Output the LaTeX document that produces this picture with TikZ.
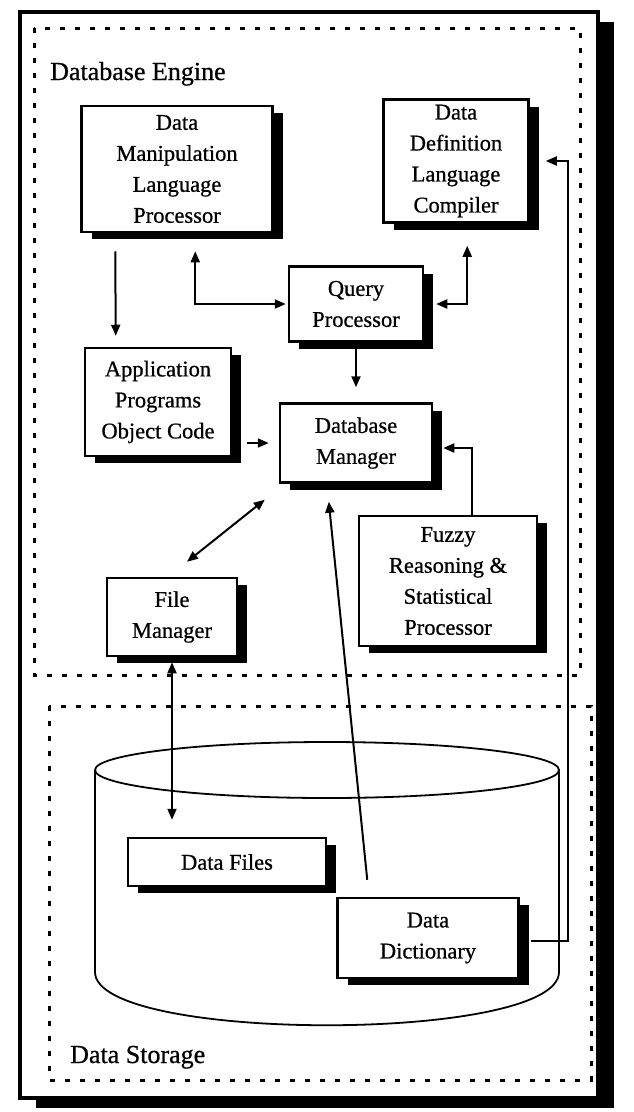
\documentclass[tikz,border=0pt]{standalone}
\usepackage{fontspec}
\setmainfont{Liberation Serif}[FakeBold=0.7]
\usetikzlibrary{arrows.meta,shadows}

\begin{document}
\begin{tikzpicture}[x=1pt,y=-1pt,
  >={Triangle[length=11pt,width=9pt]},
  blk/.style={draw, line width=2.5pt, fill=white, align=center, inner sep=0pt,
    font=\fontsize{22.5}{31}\selectfont,
    drop shadow={shadow xshift=10pt, shadow yshift=-7pt, fill=black, opacity=1}},
  link/.style={line width=2pt},
  zone/.style={line width=3pt, dash pattern=on 5pt off 10pt},
  lbl/.style={anchor=base west, inner sep=0pt, font=\fontsize{26}{31}\selectfont}]
\useasboundingbox (0,0) rectangle (633,1112);

\fill (36,22) rectangle (614,1108);
\draw[line width=4pt, fill=white] (20,12) rectangle (598,1098);
\draw[zone] (34,28) rectangle (580,675);
\draw[zone] (49,706) rectangle (591,1080);
\node (engine) at (50,80) [lbl] {Database Engine};
\node (storage) at (70,1063) [lbl] {Data Storage};

% disk
\draw[line width=1.8pt] (95,770) -- (95,972) .. controls (95,1043) and (559,1043) .. (559,972) -- (559,770);
\draw[line width=1.8pt] (327,770) ellipse [x radius=232, y radius=28];

\node (dml) at (177,169) [blk, minimum width=191pt, minimum height=126pt] {Data\\Manipulation\\Language\\Processor};
\node (ddl) at (456,161) [blk, minimum width=145pt, minimum height=123pt] {Data\\Definition\\Language\\Compiler};
\node (query) at (356,304) [blk, minimum width=134pt, minimum height=75pt] {Query\\Processor};
\node (app) at (158,402) [blk, minimum width=146pt, minimum height=108pt] {Application\\Programs\\Object Code};
\node (dbm) at (356,443) [blk, minimum width=152pt, minimum height=79pt] {Database\\Manager};
\node (fuzzy) at (448,581) [blk, minimum width=178pt, minimum height=130pt] {Fuzzy\\Reasoning \&\\Statistical\\Processor};
\node (fm) at (172,617) [blk, minimum width=130pt, minimum height=78pt] {File\\Manager};
\node (files) at (227,862) [blk, minimum width=198pt, minimum height=48pt] {Data Files};
\node (dd) at (428,938) [blk, minimum width=181pt, minimum height=80pt] {Data\\Dictionary};
\coordinate (rail) at (568,0);

\draw[link,->] ([xshift=35pt,yshift=-18pt]dml.south west) -- ([xshift=32pt,yshift=11pt]app.north west);
\draw[link,<->] ([xshift=115pt,yshift=-18pt]dml.south west) |- ([xshift=-2pt]query.west);
\draw[link,<->] ([xshift=85pt,yshift=-22pt]ddl.south west) |- ([xshift=12pt]query.east);
\draw[link,->] ([yshift=-6pt]query.south) -- ([yshift=15pt]dbm.north);
\draw[link,->,shorten <=15pt,shorten >=10pt] (app.east |- dbm.west) -- (dbm.west);
\draw[link,<->] ([xshift=15pt,yshift=15pt]fm.north) -- ([xshift=-14pt,yshift=-16pt]dbm.south west);
\draw[link,->] ([xshift=24pt]fuzzy.north) |- ([xshift=10pt,yshift=-5pt]dbm.east);
\draw[link,<->,shorten <=5pt,shorten >=17pt] (fm.south) -- (fm.south |- files.north);
\draw[link,->] ([xshift=31pt,yshift=17pt]dd.north west) -- ([xshift=50pt,yshift=-18pt]dbm.south west);
\draw[link,->] ([xshift=11pt,yshift=-3pt]dd.east) -| (rail |- ddl.east) -- ([xshift=16pt]ddl.east);
\end{tikzpicture}
\end{document}
